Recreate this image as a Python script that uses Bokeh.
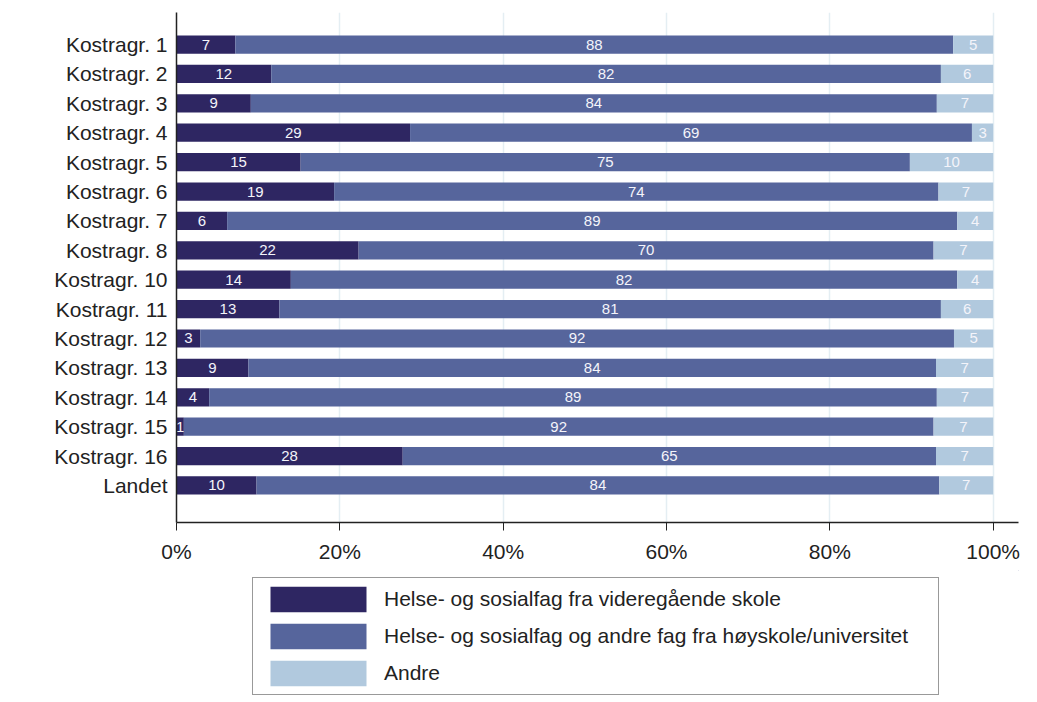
from bokeh.plotting import figure
from bokeh.layouts import column
from bokeh.models import ColumnDataSource, FixedTicker, Legend, LegendItem
from bokeh.core.properties import value
from bokeh.embed import file_html
from bokeh.resources import INLINE

categories = ["Kostragr. 1", "Kostragr. 2", "Kostragr. 3", "Kostragr. 4", "Kostragr. 5",
              "Kostragr. 6", "Kostragr. 7", "Kostragr. 8", "Kostragr. 10", "Kostragr. 11",
              "Kostragr. 12", "Kostragr. 13", "Kostragr. 14", "Kostragr. 15", "Kostragr. 16",
              "Landet"]
vgs = [7.2, 11.6, 9.1, 28.6, 15.2, 19.3, 6.2, 22.3, 14.0, 12.6, 2.9, 8.8, 4.0, 0.9, 27.7, 9.8]
hoy = [87.9, 82.0, 84.0, 68.8, 74.6, 74.0, 89.4, 70.4, 81.6, 81.0, 92.3, 84.2, 89.1, 91.8, 65.3, 83.6]
andre = [4.9, 6.4, 6.9, 2.6, 10.2, 6.7, 4.4, 7.3, 4.4, 6.4, 4.8, 7.0, 6.9, 7.3, 7.0, 6.6]
series_names = ["Helse- og sosialfag fra videregående skole",
                "Helse- og sosialfag og andre fag fra høyskole/universitet",
                "Andre"]
x_ticks = [0, 20, 40, 60, 80, 100]

colors = ["#2e2662", "#56659c", "#b1c9de"]
FONT = "Liberation Sans"

n = len(categories)
ypos = [n - i for i in range(n)]

p = figure(width=1028, height=570, output_backend="svg", toolbar_location=None,
           x_range=(0, 103.1), y_range=(-0.26, n + 1.09),
           min_border_left=176, min_border_right=10, min_border_top=12, min_border_bottom=48)
p.outline_line_color = None
p.background_fill_color = "white"

series = [vgs, hoy, andre]
left = [0.0] * n
for vals, col in zip(series, colors):
    right = [l + v for l, v in zip(left, vals)]
    src = ColumnDataSource(dict(y=ypos, left=left, right=right,
                                xc=[(l + r) / 2 for l, r in zip(left, right)],
                                lab=[f"{v:.0f}" for v in vals]))
    p.hbar(y="y", left="left", right="right", height=0.62, source=src,
           fill_color=col, line_color=None)
    p.text(x="xc", y="y", text="lab", source=src, text_align="center",
           text_baseline="middle", text_color="#f4f4fa", text_font_size="15px",
           text_font=value(FONT))
    left = right

# axes
p.xaxis.ticker = FixedTicker(ticks=x_ticks)
p.xaxis.major_label_overrides = {t: f"{t}%" for t in x_ticks}
p.xaxis.major_tick_out = 8
p.xaxis.major_tick_in = 0
p.xaxis.minor_tick_line_color = None
p.xaxis.major_label_standoff = 9
p.xaxis.major_label_text_font_size = "21px"
p.xaxis.major_label_text_font = FONT
p.xaxis.major_label_text_color = "#222222"
p.xaxis.axis_line_color = "#222222"
p.xaxis.major_tick_line_color = "#222222"
p.xaxis.axis_line_width = 1.5

p.yaxis.ticker = FixedTicker(ticks=ypos)
p.yaxis.major_label_overrides = {y: c for y, c in zip(ypos, categories)}
p.yaxis.major_tick_line_color = None
p.yaxis.minor_tick_line_color = None
p.yaxis.major_tick_out = 0
p.yaxis.major_label_standoff = 9
p.yaxis.major_label_text_font_size = "21px"
p.yaxis.major_label_text_font = FONT
p.yaxis.major_label_text_color = "#222222"
p.yaxis.axis_line_color = "#222222"
p.yaxis.axis_line_width = 1.5

p.xgrid.ticker = FixedTicker(ticks=[20, 40, 60, 80, 100])
p.xgrid.grid_line_color = "#e4eef3"
p.xgrid.grid_line_width = 1.5
p.ygrid.grid_line_color = None

# legend panel (separate figure below the chart; its frame aligns with the chart's frame)
lg = figure(width=1028, height=130, output_backend="svg", toolbar_location=None,
            x_range=(0, 1), y_range=(0, 1),
            min_border_left=176, min_border_right=10, min_border_top=0, min_border_bottom=0,
            x_axis_location=None, y_axis_location=None)
lg.outline_line_color = None
lg.xgrid.grid_line_color = None
lg.ygrid.grid_line_color = None
items = []
for nm, col in zip(series_names, colors):
    # legend-only swatch renderer placed outside the visible range
    r = lg.hbar(y=[5], left=[5], right=[6], height=0.5, fill_color=col, line_color=None)
    items.append(LegendItem(label=nm, renderers=[r]))
legend = Legend(items=items, location=(76, 5), orientation="vertical",
                glyph_width=120, glyph_height=32, label_height=32, spacing=5,
                padding=5, margin=0, label_standoff=6, label_width=549,
                label_text_font_size="21px", label_text_font=FONT,
                label_text_color="#222222",
                border_line_color="#333333", border_line_width=1.2,
                background_fill_alpha=1.0)
lg.add_layout(legend, "center")

open("out.html", "w").write(file_html(column(p, lg, spacing=0), INLINE))
